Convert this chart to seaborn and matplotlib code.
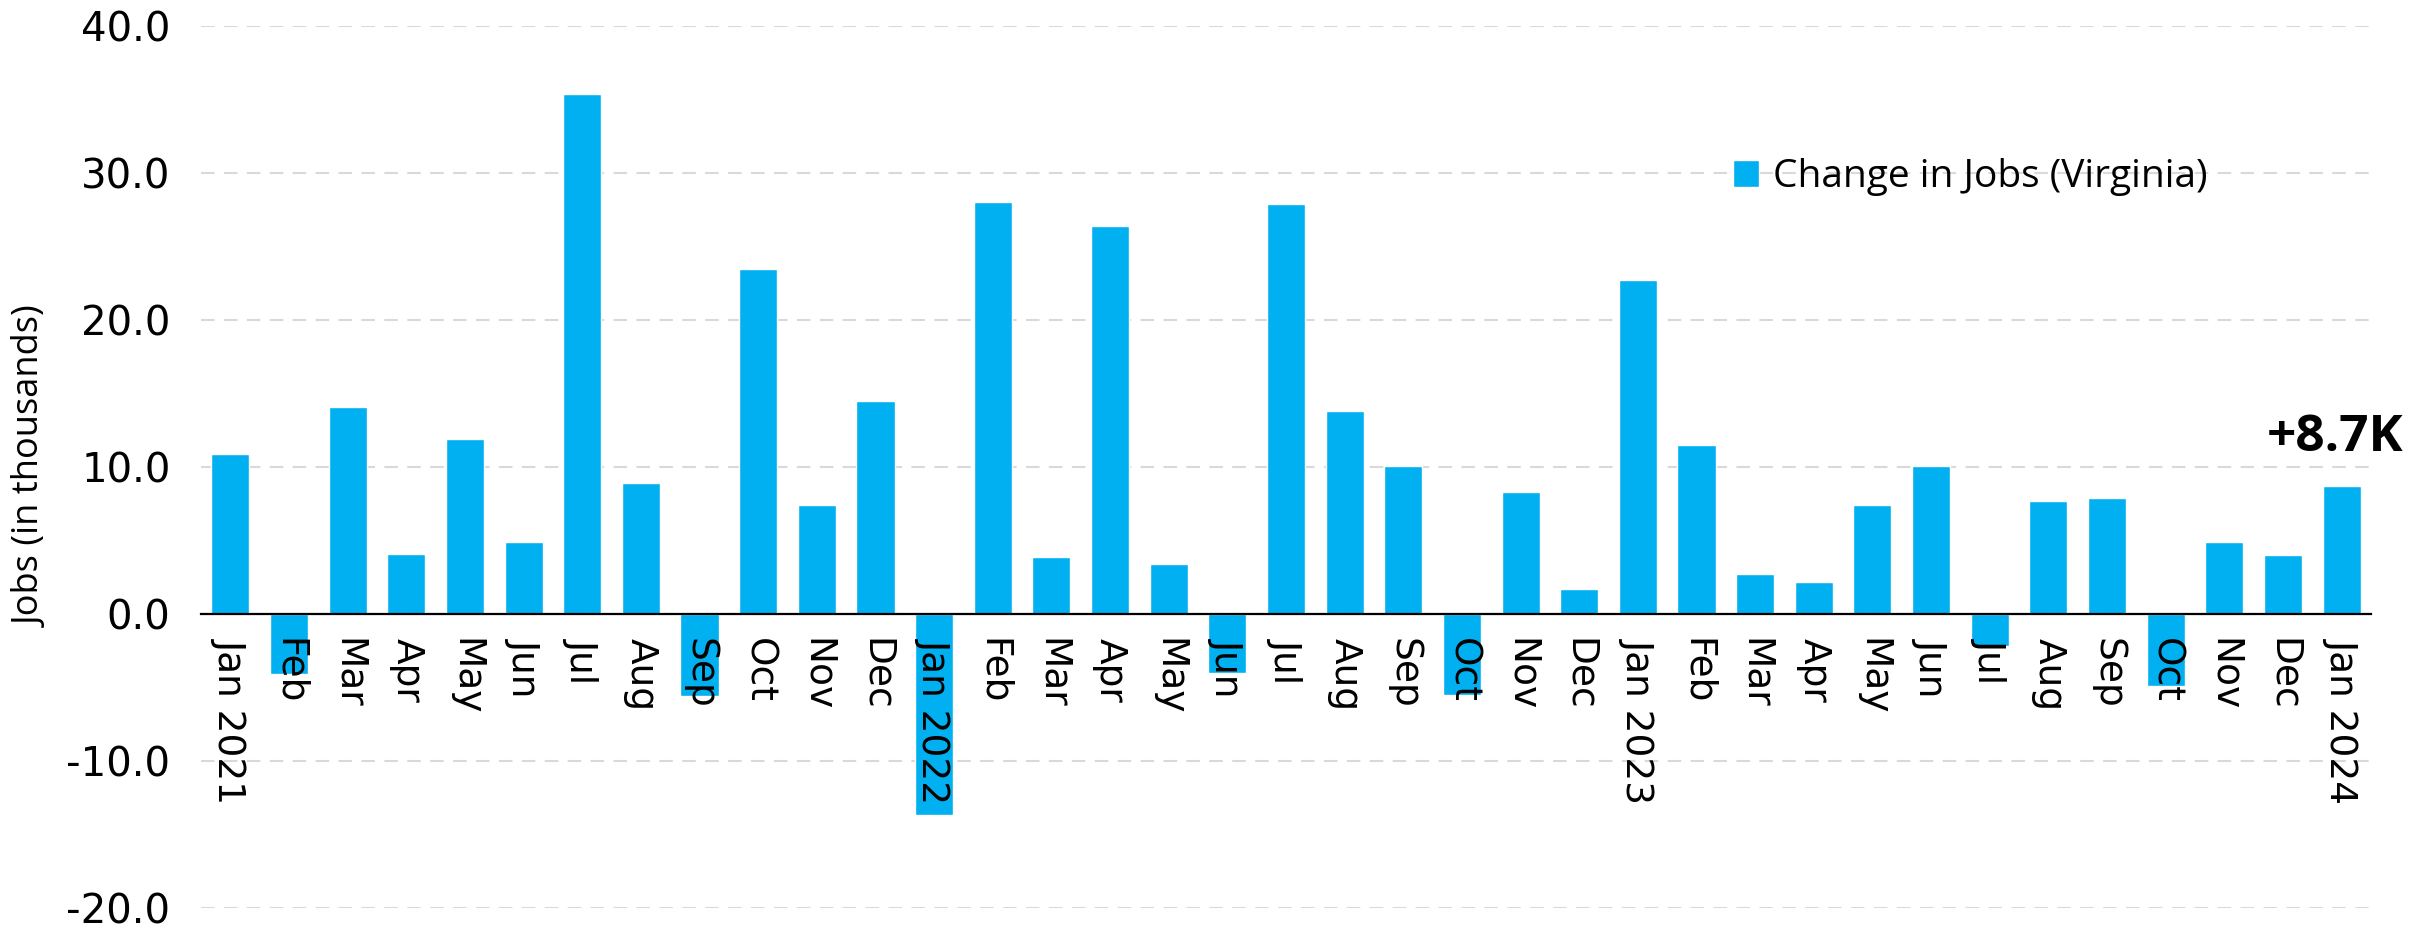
import matplotlib
matplotlib.use("Agg")
import matplotlib.pyplot as plt
import seaborn as sns
import pandas as pd

# Monthly change in Virginia jobs, thousands
periods = [
    "2021-01", "2021-02", "2021-03", "2021-04", "2021-05", "2021-06",
    "2021-07", "2021-08", "2021-09", "2021-10", "2021-11", "2021-12",
    "2022-01", "2022-02", "2022-03", "2022-04", "2022-05", "2022-06",
    "2022-07", "2022-08", "2022-09", "2022-10", "2022-11", "2022-12",
    "2023-01", "2023-02", "2023-03", "2023-04", "2023-05", "2023-06",
    "2023-07", "2023-08", "2023-09", "2023-10", "2023-11", "2023-12",
    "2024-01",
]
tick_labels = [
    "Jan 2021", "Feb", "Mar", "Apr", "May", "Jun", "Jul", "Aug", "Sep", "Oct", "Nov", "Dec",
    "Jan 2022", "Feb", "Mar", "Apr", "May", "Jun", "Jul", "Aug", "Sep", "Oct", "Nov", "Dec",
    "Jan 2023", "Feb", "Mar", "Apr", "May", "Jun", "Jul", "Aug", "Sep", "Oct", "Nov", "Dec",
    "Jan 2024",
]
job_change = [
    10.9, -4.1, 14.1, 4.1, 11.9, 4.9, 35.4, 8.9, -5.6, 23.5, 7.4, 14.5,
    -13.7, 28.0, 3.9, 26.4, 3.4, -4.0, 27.9, 13.8, 10.1, -5.5, 8.3, 1.7,
    22.7, 11.5, 2.7, 2.2, 7.4, 10.1, -2.2, 7.7, 7.9, -4.9, 4.9, 4.0, 8.7,
]
series_name = "Change in Jobs (Virginia)"
y_ticks = [-20, -10, 0, 10, 20, 30, 40]

df = pd.DataFrame({"period": periods, "change": job_change})

sns.set_theme(style="white")
plt.rcParams["font.family"] = ["DejaVu Sans"]
plt.rcParams["axes.unicode_minus"] = False
plt.rcParams["text.color"] = "black"
plt.rcParams["xtick.color"] = "black"
plt.rcParams["ytick.color"] = "black"
plt.rcParams["axes.labelcolor"] = "black"

bar_color = "#00B0F0"

fig = plt.figure(figsize=(24.25, 9.25), dpi=100)
ax = fig.add_axes([0.0829, 0.0184, 0.8948, 0.9535])

sns.barplot(data=df, x="period", y="change", color=bar_color, saturation=1,
            width=0.65, label=series_name, ax=ax, zorder=1)

# category axis sits on the zero line; month labels drawn over the bars
ax.set_axisbelow(False)
for name, s in ax.spines.items():
    s.set_visible(name == "bottom")
ax.spines["bottom"].set_position(("data", 0))
ax.spines["bottom"].set_color("black")
ax.spines["bottom"].set_linewidth(1.6)
ax.spines["bottom"].set_zorder(4)

ax.set_xlim(-0.5, len(periods) - 0.5)
ax.set_ylim(-20, 40)
ax.set_yticks(y_ticks)
ax.set_yticklabels([f"{v:.1f}" for v in y_ticks], fontsize=29)
ax.set_xticks(range(len(periods)))
ax.set_xticklabels(tick_labels, rotation=270, fontsize=27, va="top", ha="center")
ax.tick_params(axis="x", length=0, pad=17)
ax.tick_params(axis="y", length=0, pad=22)

# dashed horizontal gridlines kept beneath the bars
ax.grid(False)
for v in y_ticks:
    ax.axhline(v, color="#D9D9D9", linestyle=(0, (6.5, 4.5)), linewidth=1.5, zorder=0.5)

ax.set_xlabel("")
ax.set_ylabel("Jobs (in thousands)", fontsize=26, family="Open Sans", labelpad=0)
ax.yaxis.set_label_coords(-0.0695, 0.5)

# latest value callout above the final bar
last = len(job_change) - 1
ax.annotate(f"+{job_change[last]:.1f}K", xy=(last, job_change[last]), xytext=(-5, 25),
            textcoords="offset points", ha="center", va="baseline",
            fontsize=37, fontweight="bold", family="Open Sans", zorder=5)

leg = ax.legend(loc="center left", bbox_to_anchor=(1733 / 2425, 1 - 177 / 925),
                bbox_transform=fig.transFigure, frameon=False, fontsize=28,
                handlelength=0.67, handleheight=0.67, handletextpad=0.35,
                borderpad=0, borderaxespad=0)
for t in leg.get_texts():
    t.set_family("Open Sans")

fig.savefig("out.png", dpi=100)
